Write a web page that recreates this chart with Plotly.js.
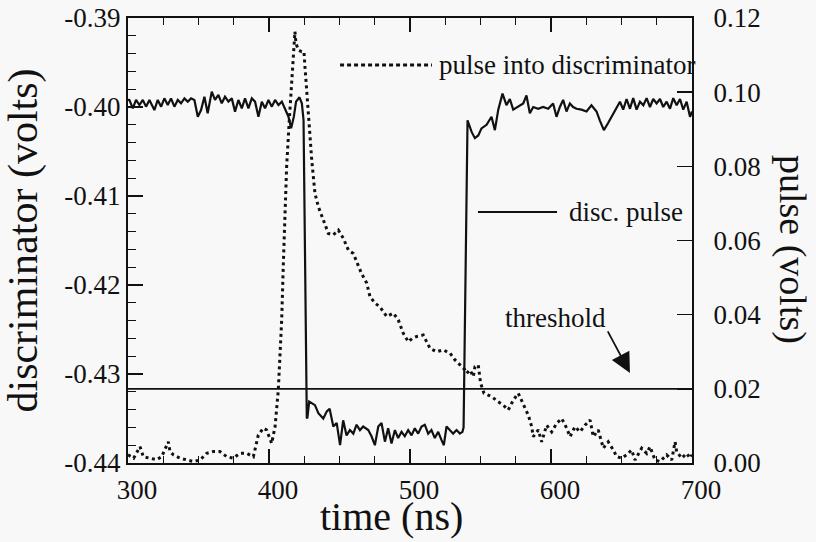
<!DOCTYPE html>
<html>
<head>
<meta charset="utf-8">
<script src="https://cdn.plot.ly/plotly-3.0.1.min.js"></script>
<style>html,body{margin:0;padding:0;background:#f8f8f8;}#chart{width:816px;height:542px;}</style>
</head>
<body>
<div id="chart"></div>
<script>
// discriminator output (left axis, volts)
const discTime = [300,301,303.4,305.7,308.1,310.5,312.8,315.2,318.7,321.1,323.5,325.8,328.2,330.5,332.9,335.3,337.6,340,342.4,344.7,347.1,349.5,351.8,354.2,356.5,359.4,361.7,364.1,366.5,368.8,371.2,373.6,375.9,378.3,380.7,383,385.4,387.8,390.1,392.5,394.9,397.2,399.6,402,404.3,406.7,409.1,411.4,413.8,415.7,417.6,419.2,421.6,423.3,424.5,426.8,427.2,428.5,430.3,432.6,435,438.5,441,443,445.6,448,450.4,452.6,455,457.4,459.8,462.1,464.5,466.8,470.4,472.7,475.1,477.5,479.8,482.2,484.5,486.9,489.3,491.6,494,496.3,498.7,501.1,503.4,505.8,508.2,510.5,512.9,515.2,517.6,520,522.3,524,525.9,528.3,530.6,533,535.4,537.2,538,540.8,543.7,546,548.4,550.7,554.3,557.8,560.2,562.6,565.6,568.4,570.8,573.2,576.7,580.3,582.6,585,587.4,590.9,594.4,598,601.5,603.9,606.3,608.6,611,613.4,615.7,618.1,621.6,625.2,628.7,632.3,634.6,637.5,640.5,644.1,646.5,648.9,651.2,653.6,656,658.3,660.7,663.1,665.5,667.8,670.2,672.5,674.9,677.3,679.6,682,684.4,686.7,689.1,691.5,693.8,696.2,698.6,700];
const discVolts = [-0.3992,-0.39921,-0.40015,-0.39921,-0.39978,-0.39921,-0.39996,-0.39921,-0.40034,-0.39921,-0.39996,-0.39903,-0.39978,-0.39903,-0.39996,-0.39921,-0.39959,-0.39903,-0.3994,-0.39903,-0.39921,-0.40109,-0.40034,-0.39884,-0.40071,-0.39828,-0.39921,-0.39865,-0.39959,-0.39884,-0.3994,-0.39903,-0.40052,-0.39921,-0.40015,-0.39903,-0.40015,-0.39903,-0.3994,-0.40109,-0.3994,-0.40015,-0.39921,-0.39996,-0.39921,-0.39978,-0.3994,-0.40015,-0.40109,-0.4024,-0.40109,-0.3994,-0.39891,-0.39959,-0.40146,-0.4349,-0.435,-0.4331,-0.4333,-0.4335,-0.4344,-0.435,-0.4342,-0.4339,-0.4359,-0.4355,-0.438,-0.4352,-0.4369,-0.4363,-0.4367,-0.4357,-0.4363,-0.4359,-0.4363,-0.437,-0.438,-0.4359,-0.4355,-0.4376,-0.4361,-0.4378,-0.4363,-0.4372,-0.4365,-0.437,-0.4363,-0.4369,-0.4361,-0.4367,-0.4359,-0.4357,-0.4367,-0.4363,-0.4372,-0.4365,-0.4374,-0.438,-0.4359,-0.4363,-0.4367,-0.4363,-0.4367,-0.4365,-0.436,-0.4015,-0.4028,-0.4035,-0.4032,-0.4024,-0.402,-0.4011,-0.4026,-0.4003,-0.3985,-0.3998,-0.3991,-0.4003,-0.4,-0.3996,-0.3987,-0.4007,-0.4,-0.4002,-0.4,-0.4002,-0.3996,-0.4011,-0.4,-0.3992,-0.4005,-0.3996,-0.4,-0.4002,-0.4003,-0.4005,-0.3998,-0.4005,-0.4015,-0.4026,-0.4018,-0.4007,-0.4,-0.3994,-0.4003,-0.3991,-0.4002,-0.399,-0.4003,-0.3994,-0.3998,-0.399,-0.4,-0.3991,-0.3996,-0.3991,-0.4,-0.3994,-0.4002,-0.399,-0.3998,-0.3991,-0.4003,-0.3994,-0.4011,-0.4005];

// pulse into discriminator (right axis, volts)
const pulseTime = [300,304,308.5,310.9,315.6,320.4,323.9,328.6,329.8,332.2,336.9,341.6,346.3,351.1,355.8,360.5,365.2,370,374.7,379.4,384.2,388.9,392.4,396,398.3,401.9,404.3,406.6,409,410.1,411.3,412.5,414.4,416.1,417.2,418.4,419.1,420.8,423.2,424.8,425.5,426.7,428.6,430.3,432.6,435,438.5,442.1,445.6,449.2,452.7,456.3,459.8,463.3,465.5,469.3,471.6,475.2,478.7,483.5,488.2,491.7,495.2,498.8,501.5,504.7,509.4,514.2,518.9,523.6,528.4,531.9,535.5,539,540.2,542.6,544.9,546.1,548.4,550.1,552.5,557.9,562.6,566.2,569.7,573.3,576.8,580.4,583.9,586.3,587.4,591,593.4,596.9,600.5,604,607.6,611.1,613.5,617,620.6,624.1,627.7,630,633.5,637.1,640.6,644.2,646.6,650.1,653.7,657.2,659.6,664.3,667.9,670.2,673.8,677.3,682,685.6,688,689.1,692.7,696.2,698.6,700];
const pulseVolts = [0.0022,0.0013,0.0044,0.0017,0.0013,0.0009,0.0017,0.0057,0.0031,0.0022,0.0013,0.0008,0.0004,0.0008,0.0026,0.0031,0.0031,0.0017,0.0013,0.0026,0.0026,0.0017,0.0075,0.0094,0.0089,0.0053,0.0098,0.0197,0.0386,0.0529,0.0664,0.0799,0.0925,0.1024,0.1114,0.1163,0.1132,0.1114,0.1109,0.1109,0.1069,0.0997,0.0907,0.0817,0.0727,0.0691,0.0655,0.0619,0.0615,0.0628,0.0606,0.0574,0.0565,0.0529,0.0512,0.0485,0.0449,0.0431,0.0421,0.0395,0.0404,0.0386,0.035,0.0327,0.0336,0.0341,0.0345,0.0309,0.03,0.0305,0.0296,0.0278,0.0264,0.0251,0.0242,0.0251,0.0233,0.026,0.0264,0.0215,0.0188,0.0179,0.0165,0.0156,0.0143,0.017,0.0188,0.0156,0.0129,0.0098,0.0071,0.0089,0.0057,0.0102,0.0084,0.0107,0.012,0.0094,0.0071,0.0098,0.0084,0.0102,0.0116,0.0071,0.0089,0.004,0.0057,0.0035,0.0017,0.0013,0.0022,0.0035,0.0008,0.004,0.0026,0.0044,0.0008,0.0004,0.0022,0.0008,0.0057,0.0031,0.0013,0.0026,0.0013,0.0022];

// threshold level (right axis, volts)
const thresholdTime = [300, 700];
const thresholdPulse = [0.02, 0.02];

// tick labels
const xTickVals = [300, 400, 500, 600, 700];
const xTickLabels = ['300', '400', '500', '600', '700'];
const leftTickVals = [-0.44, -0.43, -0.42, -0.41, -0.40, -0.39];
const leftTickLabels = ['-0.44', '-0.43', '-0.42', '-0.41', '-0.40', '-0.39'];
const rightTickVals = [0, 0.02, 0.04, 0.06, 0.08, 0.10, 0.12];
const rightTickLabels = ['0.00', '0.02', '0.04', '0.06', '0.08', '0.10', '0.12'];

// text labels
const labelPulse = 'pulse into discriminator';
const labelDisc = 'disc. pulse';
const labelThreshold = 'threshold';
const titleX = 'time (ns)';
const titleLeft = 'discriminator (volts)';
const titleRight = 'pulse (volts)';

const ink = '#111111';
const serif = 'Liberation Serif, Times New Roman, serif';

const traces = [
  {x: discTime, y: discVolts, type: 'scatter', mode: 'lines', yaxis: 'y',
   line: {color: ink, width: 2.2}, name: labelDisc, hoverinfo: 'skip'},
  {x: pulseTime, y: pulseVolts, type: 'scatter', mode: 'lines', yaxis: 'y2',
   line: {color: ink, width: 3, dash: '3px,3.5px'}, name: labelPulse, hoverinfo: 'skip'},
  {x: thresholdTime, y: thresholdPulse, type: 'scatter', mode: 'lines', yaxis: 'y2',
   line: {color: ink, width: 1.8}, name: labelThreshold, hoverinfo: 'skip'}
];

const layout = {
  width: 816, height: 542,
  margin: {l: 128, r: 124, t: 18, b: 79},
  paper_bgcolor: '#f8f8f8', plot_bgcolor: '#f8f8f8',
  font: {family: serif, color: ink, size: 27},
  showlegend: false,
  xaxis: {
    range: [300, 700], tickmode: 'array', tickvals: xTickVals, ticktext: xTickLabels,
    ticks: 'inside', ticklen: 14, tickwidth: 1.5, tickcolor: ink,
    showline: true, linewidth: 2, linecolor: ink, mirror: 'ticks',
    showgrid: false, zeroline: false,
    minor: {tickmode: 'linear', tick0: 300, dtick: 25, ticks: 'inside', ticklen: 7, tickwidth: 1.2, tickcolor: ink, showgrid: false},
    tickfont: {size: 27, family: serif, color: ink},
    ticklabelshift: 9, ticklabelstandoff: 2
  },
  yaxis: {
    range: [-0.44, -0.39], tickmode: 'array', tickvals: leftTickVals, ticktext: leftTickLabels,
    ticks: 'inside', ticklen: 15, tickwidth: 1.5, tickcolor: ink,
    showline: true, linewidth: 2, linecolor: ink,
    showgrid: false, zeroline: false,
    minor: {tickmode: 'linear', tick0: -0.44, dtick: 0.002, ticks: 'inside', ticklen: 8, tickwidth: 1.2, tickcolor: ink, showgrid: false},
    tickfont: {size: 27, family: serif, color: ink},
    title: {text: titleLeft, font: {size: 42, family: serif, color: ink}, standoff: 14}
  },
  yaxis2: {
    overlaying: 'y', side: 'right',
    range: [0, 0.12], tickmode: 'array', tickvals: rightTickVals, ticktext: rightTickLabels,
    ticks: 'inside', ticklen: 15, tickwidth: 1.5, tickcolor: ink,
    showline: true, linewidth: 2, linecolor: ink,
    showgrid: false, zeroline: false,
    tickfont: {size: 27, family: serif, color: ink},
    ticklabelstandoff: 14
  },
  shapes: [
    {type: 'line', xref: 'x', yref: 'y2', x0: 450.4, x1: 515.6, y0: 0.1073, y1: 0.1073,
     line: {color: ink, width: 3, dash: '4px,3px'}},
    {type: 'line', xref: 'x', yref: 'y2', x0: 548.2, x1: 604.3, y0: 0.0677, y1: 0.0677,
     line: {color: ink, width: 2}}
  ],
  annotations: [
    {text: labelPulse, xref: 'x', yref: 'y2', x: 519.1, y: 0.1073, xanchor: 'left', yanchor: 'middle',
     showarrow: false, font: {size: 27, family: serif, color: ink}},
    {text: labelDisc, xref: 'x', yref: 'y2', x: 611.3, y: 0.0677, xanchor: 'left', yanchor: 'middle',
     showarrow: false, font: {size: 27, family: serif, color: ink}},
    {text: labelThreshold, xref: 'x', yref: 'y2', x: 566.0, y: 0.0391, xanchor: 'left', yanchor: 'middle',
     showarrow: false, font: {size: 27, family: serif, color: ink}},
    {text: '', xref: 'x', yref: 'y2', x: 656.0, y: 0.0243, ax: -23, ay: -43,
     showarrow: true, arrowhead: 2, arrowsize: 2.2, arrowwidth: 1.8, arrowcolor: ink, standoff: 0},
    {text: titleX, xref: 'paper', yref: 'paper', x: 0.4672, y: -0.1213,
     xanchor: 'center', yanchor: 'middle', showarrow: false,
     font: {size: 40, family: serif, color: ink}},
    {text: titleRight, xref: 'paper', yref: 'paper', x: 1.1773, y: 0.4787,
     xanchor: 'center', yanchor: 'middle', textangle: 90, showarrow: false,
     font: {size: 38, family: serif, color: ink}}
  ]
};

Plotly.newPlot('chart', traces, layout, {displayModeBar: false, staticPlot: true});
</script>
</body>
</html>
